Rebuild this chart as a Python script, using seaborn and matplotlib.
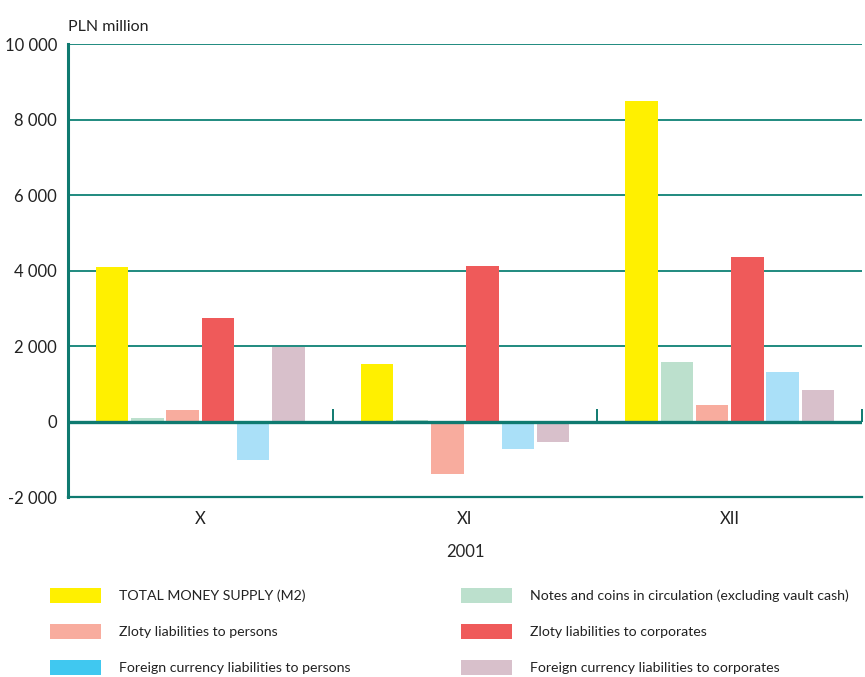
import matplotlib
matplotlib.use("Agg")
import matplotlib.pyplot as plt
from matplotlib.patches import Patch
from matplotlib.ticker import FuncFormatter, FixedLocator
import seaborn as sns
import pandas as pd

# Monthly changes in money supply components, PLN million
months = ["X", "XI", "XII"]
series = [
    "TOTAL MONEY SUPPLY (M2)",
    "Notes and coins in circulation (excluding vault cash)",
    "Zloty liabilities to persons",
    "Zloty liabilities to corporates",
    "Foreign currency liabilities to persons",
    "Foreign currency liabilities to corporates",
]
m2_total = [4090, 1520, 8490]
notes_coins = [80, 30, 1570]
zloty_persons = [300, -1400, 430]
zloty_corporates = [2730, 4110, 4350]
fx_persons = [-1030, -740, 1300]
fx_corporates = [1970, -530, 830]
year_label = "2001"
unit_label = "PLN million"

bar_colors = ["#fff000", "#bce0cd", "#f8ac9e", "#ef5a5a", "#aae0f8", "#d8c0cb"]
legend_colors = ["#fff000", "#bce0cd", "#f8ac9e", "#ef5a5a", "#40c8f0", "#d8c0cb"]
teal = "#1f8a7f"
teal_dark = "#0f7a70"

values = [m2_total, notes_coins, zloty_persons, zloty_corporates, fx_persons, fx_corporates]
rows = []
for name, vals in zip(series, values):
    for month, v in zip(months, vals):
        rows.append({"month": month, "series": name, "value": v})
df = pd.DataFrame(rows)

sns.set_style("white")
plt.rcParams["font.family"] = ["Lato", "DejaVu Sans"]
plt.rcParams["text.color"] = "#222222"

fig = plt.figure(figsize=(8.65, 6.77), dpi=100)
ax = fig.add_axes([68 / 865, 1 - 497 / 677, (862 - 68) / 865, (497 - 44) / 677])

sns.barplot(data=df, x="month", y="value", hue="series", order=months,
            hue_order=series, palette=bar_colors, width=0.8, gap=0.08,
            saturation=1, linewidth=0, ax=ax, legend=False, zorder=2)

ax.set_xlim(-0.5, 2.5)
ax.set_ylim(-2000, 10000)
ax.yaxis.set_major_locator(FixedLocator(range(-2000, 10001, 2000)))
ax.yaxis.set_major_formatter(FuncFormatter(lambda v, p: f"{int(v):,}".replace(",", " ")))
ax.set_axisbelow(True)
ax.grid(axis="y", color=teal, linewidth=1.4)
ax.grid(axis="x", visible=False)

for side in ["top", "right"]:
    ax.spines[side].set_visible(False)
ax.spines["left"].set_color(teal_dark)
ax.spines["left"].set_linewidth(2.2)
ax.spines["bottom"].set_color(teal_dark)
ax.spines["bottom"].set_linewidth(1.6)

# zero line drawn across the bars
ax.axhline(0, color=teal_dark, linewidth=2.4, zorder=4)
# short separators between months
ax.vlines([0.5, 1.5, 2.5], 0, 320, color=teal_dark, linewidth=1.4, zorder=4, clip_on=False)

ax.tick_params(axis="y", length=0, pad=8, labelsize=12, labelcolor="#222222")
ax.tick_params(axis="x", length=0, pad=10, labelsize=12, labelcolor="#222222")
ax.set_xlabel(year_label, fontsize=12, labelpad=12)
ax.set_ylabel("")
ax.text(0, 1.022, unit_label, transform=ax.transAxes, fontsize=11.5, ha="left", va="bottom")

handles = [Patch(facecolor=c, edgecolor="none") for c in legend_colors]
leg_kw = dict(frameon=False, fontsize=10.2, handlelength=3.6, handleheight=1.3,
              handletextpad=1.3, labelspacing=1.45, borderaxespad=0, borderpad=0)
fig.legend(handles[0::2], series[0::2], loc="upper left",
           bbox_to_anchor=(50 / 865, 1 - 588 / 677), **leg_kw)
fig.legend(handles[1::2], series[1::2], loc="upper left",
           bbox_to_anchor=(461 / 865, 1 - 588 / 677), **leg_kw)

fig.savefig("out.png", dpi=100)
